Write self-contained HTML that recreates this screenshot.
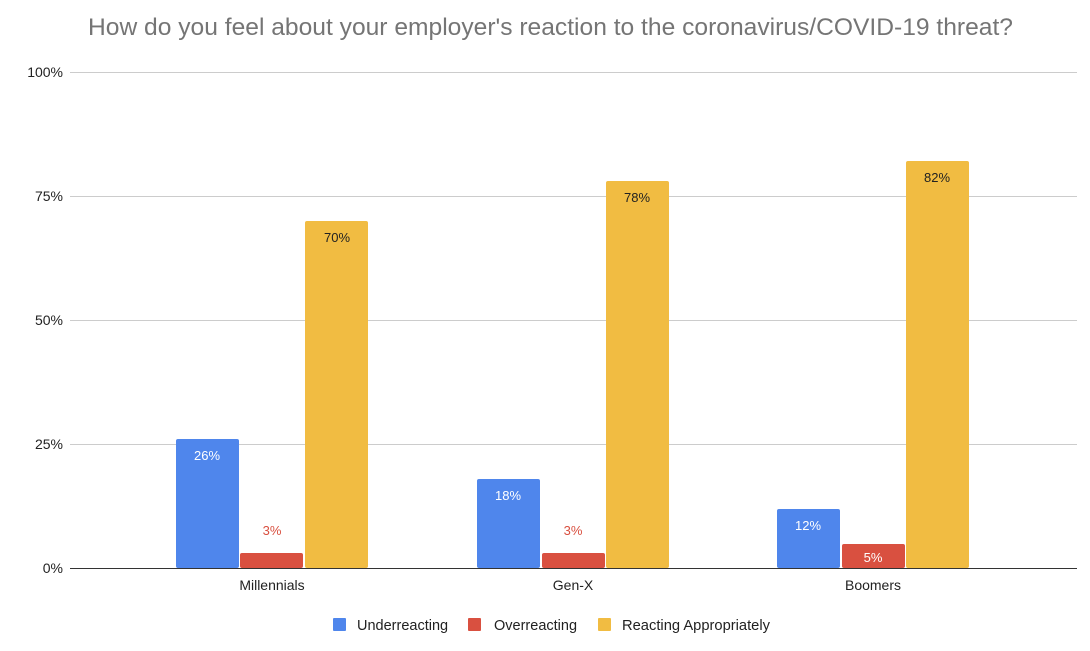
<!DOCTYPE html>
<html><head><meta charset="utf-8"><style>
body{margin:0;background:#fff;}
svg text{font-family:"Liberation Sans",Arial,sans-serif;}
</style></head><body>
<svg width="1090" height="646" viewBox="0 0 1090 646" xmlns="http://www.w3.org/2000/svg">
<rect width="1090" height="646" fill="#fff"/>
<text x="88" y="35" font-size="24" fill="#757575" textLength="925" lengthAdjust="spacingAndGlyphs">How do you feel about your employer's reaction to the coronavirus/COVID-19 threat?</text>
<g stroke="#cccccc" stroke-width="1">
<line x1="70" y1="72.5" x2="1077" y2="72.5"/>
<line x1="70" y1="196.5" x2="1077" y2="196.5"/>
<line x1="70" y1="320.5" x2="1077" y2="320.5"/>
<line x1="70" y1="444.5" x2="1077" y2="444.5"/>
</g>
<g font-size="14" fill="#222" text-anchor="end">
<text x="63" y="77">100%</text>
<text x="63" y="201">75%</text>
<text x="63" y="325">50%</text>
<text x="63" y="449">25%</text>
<text x="63" y="573">0%</text>
</g>
<rect x="176" y="439" width="63" height="129" rx="2" fill="#4f86ec"/>
<rect x="240" y="553" width="63" height="15" rx="2" fill="#d95040"/>
<rect x="305" y="221" width="63" height="347" rx="2" fill="#f1bc42"/>
<rect x="477" y="479" width="63" height="89" rx="2" fill="#4f86ec"/>
<rect x="542" y="553" width="63" height="15" rx="2" fill="#d95040"/>
<rect x="606" y="181" width="63" height="387" rx="2" fill="#f1bc42"/>
<rect x="777" y="509" width="63" height="59" rx="2" fill="#4f86ec"/>
<rect x="842" y="544" width="63" height="24" rx="2" fill="#d95040"/>
<rect x="906" y="161" width="63" height="407" rx="2" fill="#f1bc42"/>
<line x1="70" y1="568.5" x2="1077" y2="568.5" stroke="#333" stroke-width="1"/>
<g font-size="13" text-anchor="middle">
<text x="207" y="460" fill="#fff">26%</text>
<text x="272" y="535" fill="#d95040">3%</text>
<text x="337" y="242" fill="#222">70%</text>
<text x="508" y="500" fill="#fff">18%</text>
<text x="573" y="535" fill="#d95040">3%</text>
<text x="637" y="202" fill="#222">78%</text>
<text x="808" y="530" fill="#fff">12%</text>
<text x="873" y="562" fill="#fff">5%</text>
<text x="937" y="182" fill="#222">82%</text>
</g>
<g font-size="14" fill="#222" text-anchor="middle">
<text x="272" y="590">Millennials</text>
<text x="573" y="590">Gen-X</text>
<text x="873" y="590">Boomers</text>
</g>
<g font-size="14.5" fill="#222">
<rect x="333" y="618" width="13" height="13" rx="1" fill="#4f86ec"/>
<text x="357" y="630">Underreacting</text>
<rect x="468" y="618" width="13" height="13" rx="1" fill="#d95040"/>
<text x="494" y="630">Overreacting</text>
<rect x="598" y="618" width="13" height="13" rx="1" fill="#f1bc42"/>
<text x="622" y="630" textLength="148" lengthAdjust="spacingAndGlyphs">Reacting Appropriately</text>
</g>
</svg>
</body></html>
